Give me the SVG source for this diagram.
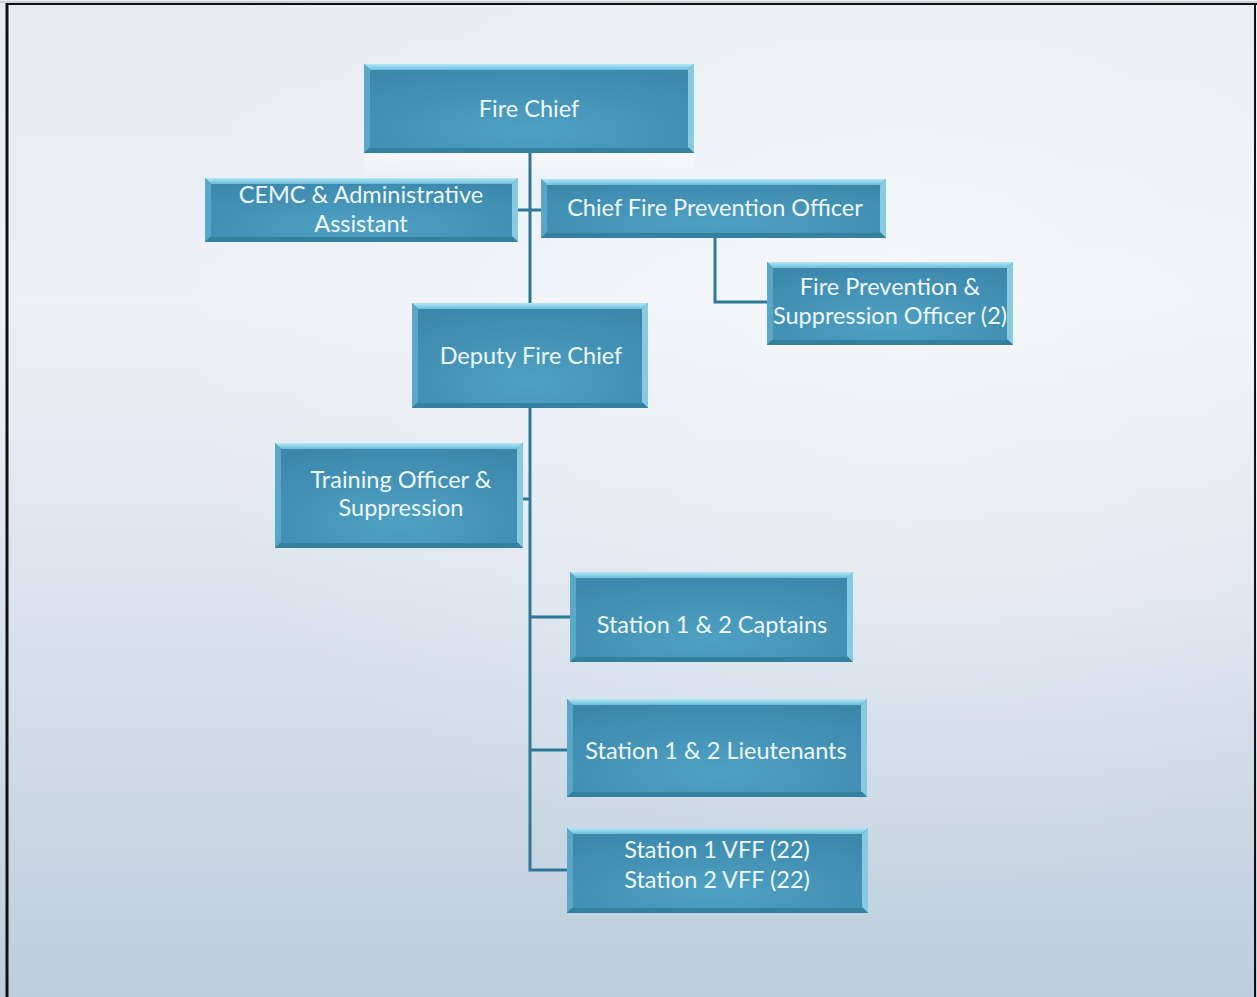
<svg xmlns="http://www.w3.org/2000/svg" width="1257" height="997" viewBox="0 0 1257 997">
<defs>
<linearGradient id="bg" x1="0" y1="0" x2="0" y2="1">
<stop offset="0" stop-color="#e6ebf2"/>
<stop offset="0.3" stop-color="#edf1f6"/>
<stop offset="0.6" stop-color="#dbe4ec"/>
<stop offset="1" stop-color="#bccedc"/>
</linearGradient>
<radialGradient id="bghl" cx="0.72" cy="0.3" r="0.6">
<stop offset="0" stop-color="#ffffff" stop-opacity="0.45"/>
<stop offset="1" stop-color="#ffffff" stop-opacity="0"/>
</radialGradient>
<radialGradient id="boxfill" cx="0.5" cy="0.75" r="0.75">
<stop offset="0" stop-color="#4fa1c4"/>
<stop offset="1" stop-color="#3b88ab"/>
</radialGradient>
<linearGradient id="topg" x1="0" y1="0" x2="0" y2="1">
<stop offset="0" stop-color="#b2e8f6"/>
<stop offset="1" stop-color="#6dbdd9"/>
</linearGradient>
<linearGradient id="refl" x1="0" y1="0" x2="0" y2="1">
<stop offset="0" stop-color="#ffffff" stop-opacity="0.45"/>
<stop offset="1" stop-color="#ffffff" stop-opacity="0"/>
</linearGradient>
</defs>
<style>
.box{fill:url(#boxfill)}
.bt{fill:url(#topg)}
.bl{fill:#5aa8c8}
.br{fill:#86cbe2}
.bb{fill:#34809f}
.t{font-family:Lato,"Open Sans","Liberation Sans",sans-serif;font-size:23.5px;fill:#eef7fb;text-anchor:middle}
.c{fill:none;stroke:#2d7896;stroke-width:3}
</style>
<rect x="0" y="0" width="1257" height="997" fill="url(#bg)"/>
<rect x="0" y="0" width="1257" height="997" fill="url(#bghl)"/>
<line x1="0" y1="2" x2="1257" y2="2" stroke="#b8b8b8" stroke-width="1"/>
<line x1="6" y1="4" x2="1257" y2="4" stroke="#111" stroke-width="2"/>
<line x1="7" y1="3" x2="7" y2="997" stroke="#111" stroke-width="3"/>
<line x1="1255" y1="3" x2="1255" y2="997" stroke="#111" stroke-width="2"/>

<rect x="364" y="154" width="330" height="26" fill="url(#refl)"/>

<g id="connectors">
<path class="c" d="M530 153 V870 H567"/>
<path class="c" d="M518 210 H541"/>
<path class="c" d="M715 238 V302 H767"/>
<path class="c" d="M523 499 H530"/>
<path class="c" d="M530 617 H570"/>
<path class="c" d="M530 750 H567"/>
</g>

<g id="fire-chief">
<rect class="box" x="364" y="64" width="330" height="89"/>
<polygon class="bt" points="364,64 694,64 688,70 370,70"/>
<polygon class="bl" points="364,64 370,70 370,147 364,153"/>
<polygon class="br" points="694,64 694,153 688,147 688,70"/>
<polygon class="bb" points="364,153 694,153 689,148 369,148"/>
<text class="t" x="529" y="117">Fire Chief</text>
</g>

<g id="cemc">
<rect class="box" x="205" y="178" width="313" height="64"/>
<polygon class="bt" points="205,178 518,178 512,184 211,184"/>
<polygon class="bl" points="205,178 211,184 211,236 205,242"/>
<polygon class="br" points="518,178 518,242 512,236 512,184"/>
<polygon class="bb" points="205,242 518,242 513,237 210,237"/>
<text class="t" x="361" y="203">CEMC &amp; Administrative</text>
<text class="t" x="361" y="232">Assistant</text>
</g>

<g id="chief-fire-prevention">
<rect class="box" x="541" y="179" width="345" height="59"/>
<polygon class="bt" points="541,179 886,179 880,185 547,185"/>
<polygon class="bl" points="541,179 547,185 547,232 541,238"/>
<polygon class="br" points="886,179 886,238 880,232 880,185"/>
<polygon class="bb" points="541,238 886,238 881,233 546,233"/>
<text class="t" x="715" y="216">Chief Fire Prevention Officer</text>
</g>

<g id="fire-prevention-suppression">
<rect class="box" x="767" y="262" width="246" height="83"/>
<polygon class="bt" points="767,262 1013,262 1007,268 773,268"/>
<polygon class="bl" points="767,262 773,268 773,339 767,345"/>
<polygon class="br" points="1013,262 1013,345 1007,339 1007,268"/>
<polygon class="bb" points="767,345 1013,345 1008,340 772,340"/>
<text class="t" x="890" y="295">Fire Prevention &amp;</text>
<text class="t" x="890" y="324">Suppression Officer (2)</text>
</g>

<g id="deputy-fire-chief">
<rect class="box" x="412" y="303" width="236" height="105"/>
<polygon class="bt" points="412,303 648,303 642,309 418,309"/>
<polygon class="bl" points="412,303 418,309 418,402 412,408"/>
<polygon class="br" points="648,303 648,408 642,402 642,309"/>
<polygon class="bb" points="412,408 648,408 643,403 417,403"/>
<text class="t" x="531" y="364">Deputy Fire Chief</text>
</g>

<g id="training-officer">
<rect class="box" x="275" y="443" width="248" height="105"/>
<polygon class="bt" points="275,443 523,443 517,449 281,449"/>
<polygon class="bl" points="275,443 281,449 281,542 275,548"/>
<polygon class="br" points="523,443 523,548 517,542 517,449"/>
<polygon class="bb" points="275,548 523,548 518,543 280,543"/>
<text class="t" x="401" y="488">Training Officer &amp;</text>
<text class="t" x="401" y="516">Suppression</text>
</g>

<g id="captains">
<rect class="box" x="570" y="572" width="283" height="90"/>
<polygon class="bt" points="570,572 853,572 847,578 576,578"/>
<polygon class="bl" points="570,572 576,578 576,656 570,662"/>
<polygon class="br" points="853,572 853,662 847,656 847,578"/>
<polygon class="bb" points="570,662 853,662 848,657 575,657"/>
<text class="t" x="712" y="633">Station 1 &amp; 2 Captains</text>
</g>

<g id="lieutenants">
<rect class="box" x="567" y="699" width="300" height="98"/>
<polygon class="bt" points="567,699 867,699 861,705 573,705"/>
<polygon class="bl" points="567,699 573,705 573,791 567,797"/>
<polygon class="br" points="867,699 867,797 861,791 861,705"/>
<polygon class="bb" points="567,797 867,797 862,792 572,792"/>
<text class="t" x="716" y="759">Station 1 &amp; 2 Lieutenants</text>
</g>

<g id="vff">
<rect class="box" x="567" y="828" width="301" height="85"/>
<polygon class="bt" points="567,828 868,828 862,834 573,834"/>
<polygon class="bl" points="567,828 573,834 573,907 567,913"/>
<polygon class="br" points="868,828 868,913 862,907 862,834"/>
<polygon class="bb" points="567,913 868,913 863,908 572,908"/>
<text class="t" x="717" y="858">Station 1 VFF (22)</text>
<text class="t" x="717" y="888">Station 2 VFF (22)</text>
</g>
</svg>
